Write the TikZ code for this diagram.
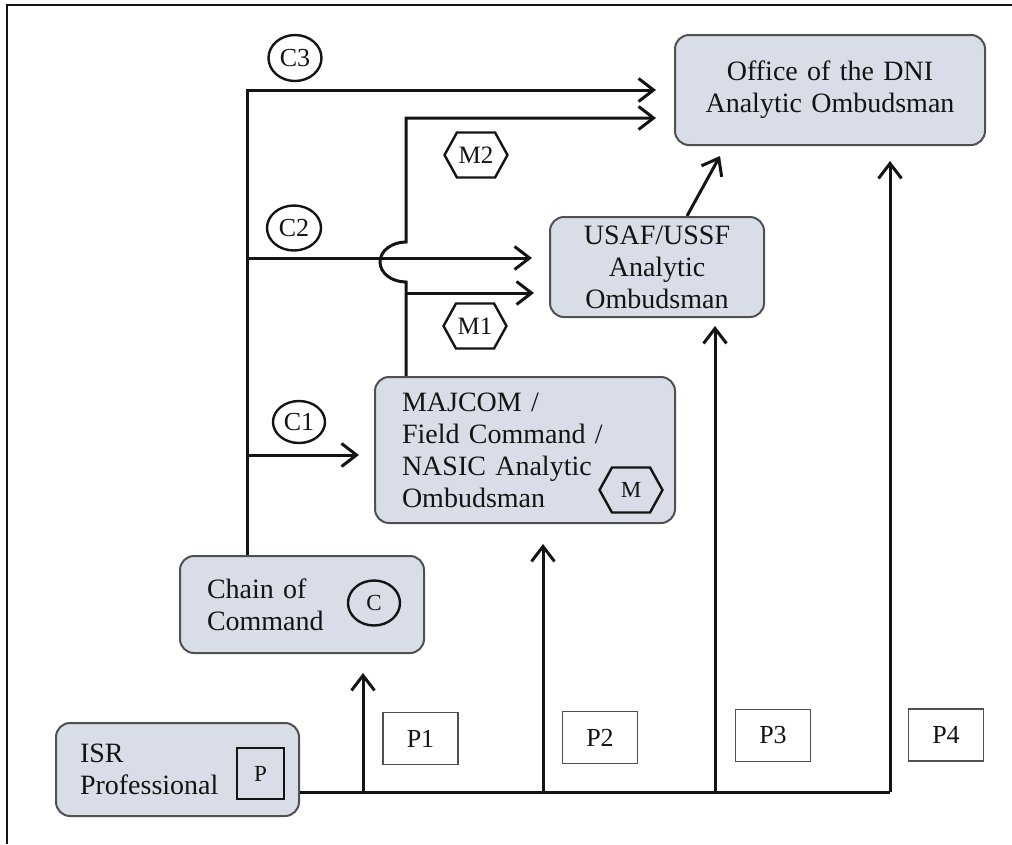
\documentclass[tikz,border=0pt]{standalone}
\usepackage{fontspec}
\setmainfont{Liberation Serif}
\usetikzlibrary{arrows.meta,shapes.geometric,shapes.symbols}
\definecolor{boxfill}{RGB}{216,221,231}
\definecolor{boxline}{RGB}{80,80,80}
\definecolor{ink}{RGB}{20,20,20}
\begin{document}
\begin{tikzpicture}[x=1pt,y=-1pt,
  box/.style={draw=boxline, fill=boxfill, line width=2pt, rounded corners=14pt,
    font=\fontsize{28}{32}\selectfont, inner ysep=0pt, text=ink},
  tag/.style={draw=boxline, line width=1.8pt, fill=white, inner sep=0pt,
    font=\fontsize{26}{28}\selectfont, text=ink, minimum width=75pt, minimum height=52pt},
  oval/.style={ellipse, draw=ink, line width=2.4pt, inner sep=0pt,
    font=\fontsize{26}{28}\selectfont, text=ink},
  hexa/.style={signal, signal to=west and east, signal pointer angle=122, draw=ink,
    line width=2.4pt, inner sep=0pt, font=\fontsize{25}{28}\selectfont, text=ink,
    minimum width=63pt, minimum height=45pt},
  line/.style={draw=ink, line width=3pt},
  arr/.style={line, -{Straight Barb[length=15pt,width=23pt]}}
]
\useasboundingbox (0,0) rectangle (1012,844);
% frame
\draw[line width=2pt, draw=ink] (1012,5) -- (7,5) -- (7,844);

% main boxes
\node[box, text width=195pt, inner xsep=24pt, minimum height=93pt, align=left]
  (isr) at (177.5,769.5) {ISR\\Professional};
\node[box, text width=190pt, inner xsep=27pt, minimum height=97pt, align=left]
  (chain) at (302,604.5) {Chain of\\Command};
\node[box, text width=246pt, inner xsep=27pt, minimum height=146pt, align=left]
  (majcom) at (525,450) {MAJCOM /\\Field Command /\\NASIC Analytic\\Ombudsman};
\node[box, text width=190pt, inner xsep=12pt, minimum height=100pt, align=center]
  (usaf) at (657,267) {USAF/USSF\\Analytic\\Ombudsman};
\node[box, text width=280pt, inner xsep=15pt, minimum height=110pt, align=center]
  (office) at (830,90) {Office of the DNI\\Analytic Ombudsman};

% symbols inside boxes
\node[draw=ink, line width=1.8pt, inner sep=0pt, minimum width=47pt, minimum height=51pt,
  font=\fontsize{23}{26}\selectfont, text=ink] (psym) at (260.5,773.5) {P};
\node[oval, minimum width=52pt, minimum height=45pt, font=\fontsize{23}{26}\selectfont]
  (csym) at (374,603) {C};
\node[hexa, font=\fontsize{23}{26}\selectfont] (msym) at (631,490) {M};

% labels
\node[oval, minimum width=53pt, minimum height=46pt] (c3) at (295,58) {C3};
\node[oval, minimum width=54pt, minimum height=45pt] (c2) at (294,228) {C2};
\node[oval, minimum width=52pt, minimum height=42pt] (c1) at (299,422) {C1};
\node[hexa] (m2) at (476,155) {M2};
\node[hexa] (m1) at (475,326) {M1};
\node[tag] (p1) at (420.5,738.5) {P1};
\node[tag] (p2) at (600,737.5) {P2};
\node[tag] (p3) at (773,735.5) {P3};
\node[tag] (p4) at (946,735) {P4};

% chain of command trunk
\coordinate (tx) at (247,0);
\coordinate (tc2) at (247,258);
\coordinate (tc1) at (247,455);
\draw[arr, shorten >=18pt] (chain.north -| tx) |- (office.west);
\draw[arr, shorten >=17pt] (tc2) -- (tc2 -| usaf.west);
\draw[arr, shorten >=15pt] (tc1) -- (tc1 -| majcom.west);

% MAJCOM trunk with jump
\coordinate (mx) at (406,0);
\coordinate (jlo) at (406,282);
\coordinate (m1s) at (406,293);
\draw[arr, shorten >=18pt] (majcom.north -| mx) -- (jlo)
  arc[start angle=90, end angle=270, x radius=26, y radius=20]
  |- ([yshift=-28pt]office.west);
\draw[arr, shorten >=15pt] (m1s) -- (m1s -| usaf.west);

% USAF to Office
\draw[arr] ([xshift=30pt]usaf.north) -- ([xshift=-110pt,yshift=-10pt]office.south);

% ISR professional base line
\coordinate (base) at (0,792);
\coordinate (b1) at (363,792);
\coordinate (b2) at (543,792);
\coordinate (b3) at (715,792);
\coordinate (b4) at (890,792);
\draw[line] (isr.east |- base) -- (b4);
\draw[arr, shorten >=19pt] (b1) -- (b1 |- chain.south);
\draw[arr, shorten >=20pt] (b2) -- (b2 |- majcom.south);
\draw[arr, shorten >=8pt] (b3) -- (b3 |- usaf.south);
\draw[arr, shorten >=15pt] (b4) -- (b4 |- office.south);
\end{tikzpicture}
\end{document}
